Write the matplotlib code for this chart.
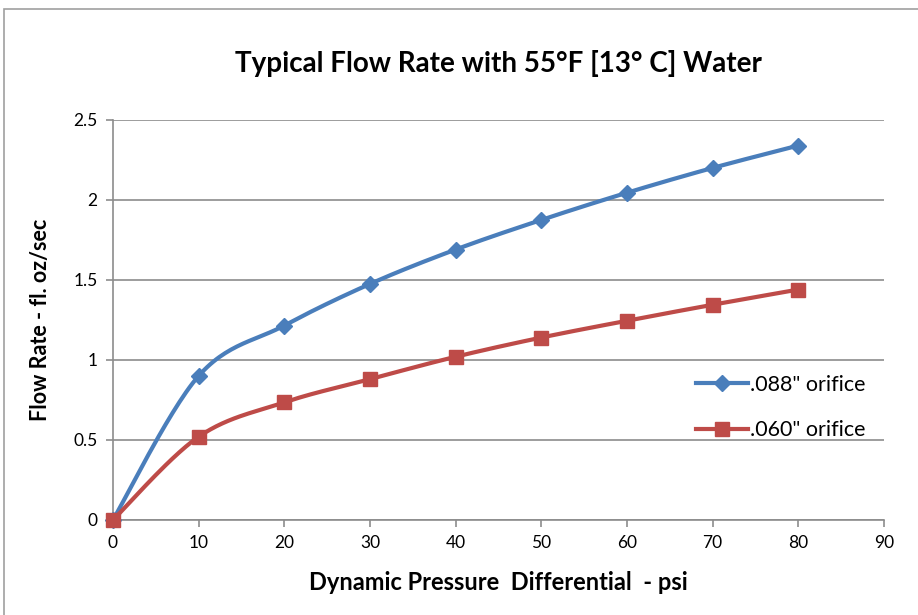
import numpy as np
import matplotlib
matplotlib.use("Agg")
import matplotlib.pyplot as plt
from matplotlib.patches import Rectangle

# ── data ───────────────────────────────────────────────────────────────────
pressure   = [0, 10, 20, 30, 40, 50, 60, 70, 80]
flow_088   = [0, 0.90, 1.215, 1.475, 1.69, 1.875, 2.045, 2.20, 2.34]
flow_060   = [0, 0.52, 0.735, 0.88, 1.02, 1.14, 1.245, 1.345, 1.44]
labels     = ['.088" orifice', '.060" orifice']
x_ticks    = [0, 10, 20, 30, 40, 50, 60, 70, 80, 90]
y_ticks    = [0, 0.5, 1, 1.5, 2, 2.5]
y_ticklbl  = ["0", "0.5", "1", "1.5", "2", "2.5"]

BLUE = "#4A7EBB"
RED  = "#BE4B48"
GRID = "#8C8C8C"

plt.rcParams["font.family"] = ["Lato", "DejaVu Sans"]


def smooth(xs, ys, sx, sy, n=30):
    # Excel-style smoothed line: cubic Bezier through the points,
    # control points from neighbours (Catmull-Rom), done in screen units
    P = np.column_stack([np.asarray(xs) * sx, np.asarray(ys) * sy])
    P = np.vstack([P[0], P, P[-1]])
    out = []
    t = np.linspace(0, 1, n)[:, None]
    for i in range(1, len(P) - 2):
        p0, p1, p2, p3 = P[i - 1], P[i], P[i + 1], P[i + 2]
        c1 = p1 + (p2 - p0) / 6
        c2 = p2 - (p3 - p1) / 6
        seg = ((1 - t) ** 3) * p1 + 3 * ((1 - t) ** 2) * t * c1 \
            + 3 * (1 - t) * t ** 2 * c2 + t ** 3 * p2
        out.append(seg)
    seg = np.vstack(out)
    return seg[:, 0] / sx, seg[:, 1] / sy


fig = plt.figure(figsize=(9.18, 6.15), dpi=100)
ax = fig.add_axes([0.123, 0.1545, 0.840, 0.6505])

# chart border
fig.patches.append(Rectangle((4 / 918, -0.01), 1.0, (615 - 9) / 615 + 0.01,
                             transform=fig.transFigure, fill=False,
                             edgecolor="#A0A0A0", linewidth=1.2))

sx, sy = 771 / 90, 400 / 2.5
for ys, col, mk, ms, lab in [(flow_088, BLUE, "D", 8.5, labels[0]),
                             (flow_060, RED, "s", 10.5, labels[1])]:
    cx, cy = smooth(pressure, ys, sx, sy)
    ax.plot(cx, cy, color=col, linewidth=3, solid_capstyle="round", zorder=3,
            clip_on=False)
    ax.plot(pressure, ys, linestyle="none", marker=mk, markersize=ms,
            color=col, zorder=4, clip_on=False)
    ax.plot([], [], color=col, linewidth=3, marker=mk, markersize=ms, label=lab)

ax.set_xlim(0, 90)
ax.set_ylim(0, 2.5)
ax.set_xticks(x_ticks)
ax.set_yticks(y_ticks)
ax.set_yticklabels(y_ticklbl)
ax.tick_params(axis="both", labelsize=12.5, color=GRID, length=5, width=1.2,
               direction="out")
ax.tick_params(axis="x", pad=6)
ax.tick_params(axis="y", pad=6)
ax.grid(axis="y", color=GRID, linewidth=1.2)
ax.set_axisbelow(True)
for s in ["top", "right"]:
    ax.spines[s].set_visible(False)
for s in ["left", "bottom"]:
    ax.spines[s].set_color(GRID)
    ax.spines[s].set_linewidth(1.2)

ax.set_xlabel("Dynamic Pressure  Differential  - psi", fontsize=17,
              fontweight="bold", labelpad=14)
ax.set_ylabel("Flow Rate - fl. oz/sec", fontsize=15.5, fontweight="bold",
              labelpad=16)
fig.text(0.543, 0.897, "Typical Flow Rate with 55°F [13° C] Water",
         ha="center", va="center", fontsize=20, fontweight="bold")

leg = ax.legend(loc="upper left", bbox_to_anchor=(0.745, 0.385), frameon=False,
                fontsize=15.5, handlelength=2.4, handletextpad=0.1,
                labelspacing=1.2, borderaxespad=0)

fig.savefig("out.png", dpi=100)
